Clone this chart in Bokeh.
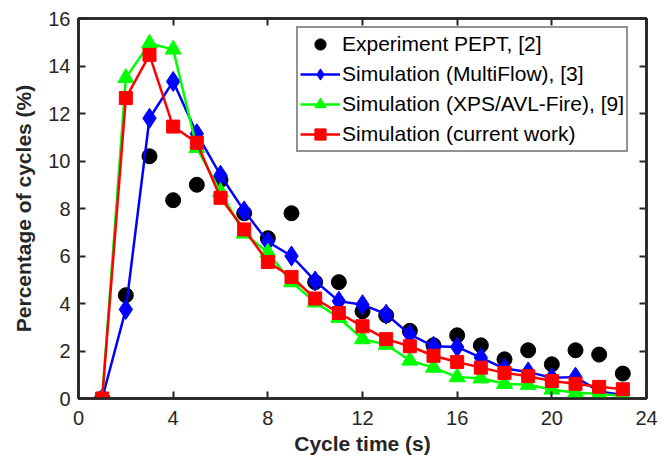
from bokeh.plotting import figure
from bokeh.models import LinearAxis, FixedTicker, Range1d, Legend, LegendItem
from bokeh.embed import file_html
from bokeh.resources import INLINE

cycle_time = list(range(1, 24))
experiment = [0, 4.35, 10.2, 8.35, 9.0, 9.2, 7.8, 6.75, 7.8, 4.9, 4.9, 3.67, 3.5,
              2.85, 2.24, 2.66, 2.24, 1.65, 2.03, 1.44, 2.03, 1.85, 1.05]
multiflow = [0, 3.75, 11.8, 13.35, 11.15, 9.4, 7.9, 6.6, 6.0, 4.95, 4.1, 3.95, 3.55,
             2.7, 2.2, 2.17, 1.72, 1.26, 1.12, 0.87, 0.9, 0.3, 0.15]
xps_avl = [0, 13.5, 14.95, 14.7, 10.55, 8.7, 6.95, 6.15, 4.9, 4.05, 3.4, 2.5, 2.27,
           1.6, 1.3, 0.9, 0.85, 0.62, 0.58, 0.38, 0.24, 0.2, 0.1]
current = [0, 12.65, 14.47, 11.45, 10.77, 8.45, 7.12, 5.75, 5.12, 4.21, 3.6, 3.04, 2.5,
           2.2, 1.8, 1.54, 1.3, 1.08, 0.94, 0.74, 0.62, 0.49, 0.39]

x_ticks = [0, 4, 8, 12, 16, 20, 24]
y_ticks = [0, 2, 4, 6, 8, 10, 12, 14, 16]

FONT = "Liberation Sans, Arial, sans-serif"
DARK = "#262626"

p = figure(width=672, height=468, output_backend="svg", toolbar_location=None,
           x_range=Range1d(0, 24), y_range=Range1d(0, 16),
           min_border_left=78, min_border_right=26, min_border_top=18, min_border_bottom=70)
p.xgrid.visible = False
p.ygrid.visible = False
p.outline_line_color = DARK
p.outline_line_width = 2.5

def style(ax, labels=True):
    ax.axis_line_color = DARK
    ax.axis_line_width = 2.5
    ax.major_tick_in = 7
    ax.major_tick_out = 0
    ax.major_tick_line_width = 2
    ax.major_tick_line_color = DARK
    ax.minor_tick_line_color = None
    ax.major_label_text_font = FONT
    ax.major_label_text_font_size = "20px"
    ax.major_label_text_color = DARK
    ax.axis_label_text_font = FONT
    ax.axis_label_text_font_size = "21px"
    ax.axis_label_text_font_style = "bold"
    ax.axis_label_text_color = DARK
    if not labels:
        ax.major_label_text_font_size = "0px"
        ax.major_label_text_alpha = 0

p.xaxis.ticker = FixedTicker(ticks=x_ticks)
p.yaxis.ticker = FixedTicker(ticks=y_ticks)
p.xaxis.axis_label = "Cycle time (s)"
p.yaxis.axis_label = "Percentage of cycles (%)"
style(p.xaxis[0])
style(p.yaxis[0])
p.xaxis.major_label_standoff = 12
p.yaxis.major_label_standoff = 8
p.xaxis.axis_label_standoff = 4
p.yaxis.axis_label_standoff = 10

top = LinearAxis(ticker=FixedTicker(ticks=x_ticks))
right = LinearAxis(ticker=FixedTicker(ticks=y_ticks))
style(top, False)
style(right, False)
p.add_layout(top, "above")
p.add_layout(right, "right")

exp_r = p.scatter(cycle_time, experiment, marker="circle", size=15, color="black")
mf_l = p.line(cycle_time, multiflow, color="#0000FF", line_width=2.5)
mf_s = p.scatter(cycle_time, multiflow, marker="diamond", size=20, color="#0000FF")
xa_l = p.line(cycle_time, xps_avl, color="#00FF00", line_width=2.5)
xa_s = p.scatter(cycle_time, xps_avl, marker="triangle", size=16, color="#00FF00")
cw_l = p.line(cycle_time, current, color="#FF0000", line_width=2.5)
cw_s = p.scatter(cycle_time, current, marker="square", size=13, color="#FF0000")

legend = Legend(items=[
    LegendItem(label="Experiment PEPT, [2]", renderers=[exp_r]),
    LegendItem(label="Simulation (MultiFlow), [3]", renderers=[mf_l, mf_s]),
    LegendItem(label="Simulation (XPS/AVL-Fire), [9]", renderers=[xa_l, xa_s]),
    LegendItem(label="Simulation (current work)", renderers=[cw_l, cw_s]),
], location=(218, 246))
legend.label_text_font = FONT
legend.label_text_font_size = "21px"
legend.label_text_color = "black"
legend.border_line_color = DARK
legend.border_line_width = 2
legend.glyph_width = 40
legend.glyph_height = 28
legend.label_height = 28
legend.spacing = 2
legend.padding = 2
legend.margin = 0
legend.label_standoff = 2
p.add_layout(legend)

open("out.html", "w").write(file_html(p, INLINE))
